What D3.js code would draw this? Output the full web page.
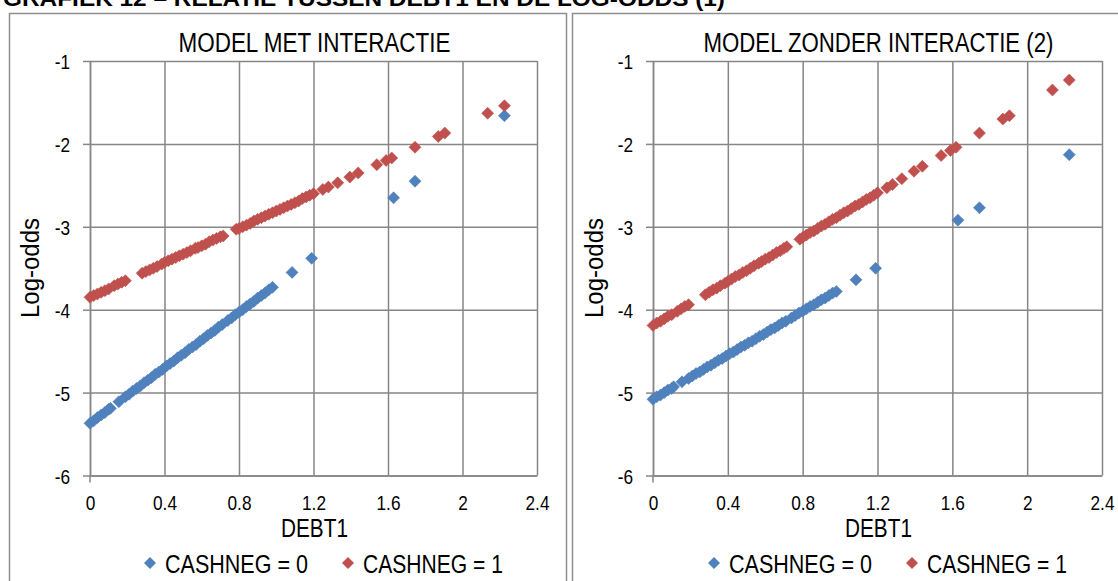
<!DOCTYPE html>
<html>
<head>
<meta charset="utf-8">
<script src="https://cdn.jsdelivr.net/npm/d3@7"></script>
<style>
  body { margin: 0; background: #fff; }
  svg { display: block; }
  text { font-family: 'Liberation Sans', Arial, sans-serif; fill: #000; }
</style>
</head>
<body>
<svg id="chart" width="1118" height="581"></svg>
<script>
// DEBT1 values of the observations, per CASHNEG group
const debtCash0 = [0,0.02,0.04,0.06,0.08,0.10,0.11,0.155,
  0.19,0.21,0.23,0.25,0.27,0.29,0.31,0.33,0.35,0.37,0.39,0.41,0.43,0.45,0.47,0.49,0.51,0.53,0.55,0.57,0.59,0.61,0.63,0.65,0.67,0.69,0.71,
  0.74,0.76,0.78,0.80,0.82,0.84,0.86,0.88,0.90,0.92,0.94,0.96,0.98,
  1.085,1.19,1.63,1.745,2.225];
const debtCash1 = [0,0.02,0.04,0.06,0.08,0.10,0.13,0.15,0.17,0.19,
  0.28,0.30,0.32,0.34,0.36,
  0.385,0.40,0.42,0.44,0.46,0.48,0.50,0.52,0.54,
  0.565,0.58,0.60,0.62,0.64,0.66,0.68,0.70,0.715,
  0.785,0.80,0.82,0.84,0.86,0.88,0.90,0.92,0.94,0.96,0.98,1.00,1.02,1.04,1.06,1.08,1.10,1.12,1.14,1.16,1.18,1.20,
  1.25,1.28,1.33,1.395,1.44,1.54,1.59,1.62,1.745,1.87,1.905,2.135,2.225];

// Predicted log-odds, model with interaction
const logOddsInteraction0 = [-5.37,-5.34,-5.30,-5.27,-5.24,-5.20,-5.19,-5.11,
  -5.05,-5.02,-4.98,-4.95,-4.92,-4.88,-4.85,-4.82,-4.78,-4.75,-4.72,-4.68,-4.65,-4.62,-4.58,-4.55,-4.52,-4.48,-4.45,-4.42,-4.38,-4.35,-4.31,-4.28,-4.25,-4.21,-4.18,
  -4.13,-4.10,-4.06,-4.03,-4.00,-3.96,-3.93,-3.90,-3.86,-3.83,-3.80,-3.76,-3.73,
  -3.55,-3.38,-2.65,-2.45,-1.66];
const logOddsInteraction1 = [-3.85,-3.83,-3.81,-3.79,-3.77,-3.75,-3.71,-3.69,-3.67,-3.65,
  -3.56,-3.54,-3.52,-3.50,-3.48,
  -3.45,-3.43,-3.41,-3.39,-3.37,-3.35,-3.33,-3.31,-3.29,
  -3.26,-3.25,-3.23,-3.21,-3.18,-3.16,-3.14,-3.12,-3.11,
  -3.03,-3.02,-3.00,-2.98,-2.96,-2.93,-2.91,-2.89,-2.87,-2.85,-2.83,-2.81,-2.79,-2.77,-2.75,-2.73,-2.71,-2.69,-2.66,-2.64,-2.62,-2.60,
  -2.55,-2.52,-2.47,-2.40,-2.35,-2.25,-2.20,-2.17,-2.04,-1.91,-1.87,-1.63,-1.54];

// Predicted log-odds, model without interaction
const logOddsNoInteraction0 = [-5.08,-5.05,-5.03,-5.00,-4.97,-4.95,-4.93,-4.87,
  -4.83,-4.80,-4.77,-4.75,-4.72,-4.69,-4.67,-4.64,-4.61,-4.59,-4.56,-4.53,-4.51,-4.48,-4.45,-4.43,-4.40,-4.38,-4.35,-4.32,-4.30,-4.27,-4.24,-4.22,-4.19,-4.16,-4.14,
  -4.10,-4.07,-4.04,-4.02,-3.99,-3.96,-3.94,-3.91,-3.88,-3.86,-3.83,-3.80,-3.78,
  -3.64,-3.50,-2.92,-2.77,-2.13];
const logOddsNoInteraction1 = [-4.19,-4.16,-4.14,-4.11,-4.08,-4.06,-4.02,-3.99,-3.96,-3.94,
  -3.82,-3.79,-3.76,-3.74,-3.71,
  -3.68,-3.66,-3.63,-3.60,-3.58,-3.55,-3.53,-3.50,-3.47,
  -3.44,-3.42,-3.39,-3.37,-3.34,-3.31,-3.29,-3.26,-3.24,
  -3.15,-3.13,-3.10,-3.07,-3.05,-3.02,-2.99,-2.97,-2.94,-2.91,-2.89,-2.86,-2.83,-2.81,-2.78,-2.75,-2.73,-2.70,-2.67,-2.65,-2.62,-2.59,
  -2.53,-2.49,-2.42,-2.33,-2.27,-2.14,-2.08,-2.04,-1.87,-1.70,-1.66,-1.35,-1.23];

const xTicks = [0, 0.4, 0.8, 1.2, 1.6, 2, 2.4];
const yTicks = [-1, -2, -3, -4, -5, -6];
const panelTitles = ["MODEL MET INTERACTIE", "MODEL ZONDER INTERACTIE (2)"];
const seriesNames = ["CASHNEG = 0", "CASHNEG = 1"];
const xTitle = "DEBT1";
const yTitle = "Log-odds";
const chartTitle = "GRAFIEK 12 \u2013 RELATIE TUSSEN DEBT1 EN DE LOG-ODDS (1)";

const svg = d3.select("#chart");
const gridColor = "#868686";
const frameColor = "#8f8f8f";
const colors = ["#4F81BD", "#C0504D"];
const diamond = "M0,-6L6,0L0,6L-6,0Z";
const narrow = 0.82;   // condensed look for the axis numbers

// document heading, running off the top edge
svg.append("text")
  .attr("x", 3).attr("y", 6)
  .attr("font-size", 22).attr("font-weight", "bold")
  .attr("textLength", 722).attr("lengthAdjust", "spacingAndGlyphs")
  .text(chartTitle);

const panels = [
  { title: panelTitles[0], titleW: 272, left: 9.5, right: 566.5, dx: 0, xr: [90, 537],
    series: [[debtCash0, logOddsInteraction0], [debtCash1, logOddsInteraction1]] },
  { title: panelTitles[1], titleW: 350, left: 572.5, right: 1140, dx: 564, xr: [653, 1102],
    series: [[debtCash0, logOddsNoInteraction0], [debtCash1, logOddsNoInteraction1]] }
];

function fitText(sel, w) {
  return sel.attr("textLength", w).attr("lengthAdjust", "spacingAndGlyphs");
}
function squeeze(sel) {
  sel.each(function () {
    const w = this.getComputedTextLength();
    d3.select(this).attr("textLength", w * narrow).attr("lengthAdjust", "spacingAndGlyphs");
  });
}

panels.forEach(p => {
  const g = svg.append("g");

  // chart frame
  g.append("rect")
    .attr("x", p.left).attr("y", 13.5)
    .attr("width", p.right - p.left).attr("height", 620)
    .attr("fill", "#fff").attr("stroke", frameColor).attr("stroke-width", 1.5);

  const x = d3.scaleLinear().domain([0, 2.4]).range(p.xr);
  const y = d3.scaleLinear().domain([-6, -1]).range([475.5, 61]);
  const plotH = y(-6) - y(-1);
  const plotW = x(2.4) - x(0);

  // vertical gridlines
  const gx = g.append("g")
    .attr("transform", `translate(0,${y(-6)})`)
    .call(d3.axisBottom(x).tickValues(xTicks).tickSize(-plotH).tickFormat(""));
  gx.select(".domain").remove();
  gx.selectAll("line").attr("stroke", gridColor).attr("stroke-width", 1.5);

  // horizontal gridlines
  const gy = g.append("g")
    .attr("transform", `translate(${x(0)},0)`)
    .call(d3.axisRight(y).tickValues(yTicks).tickSize(plotW).tickFormat(""));
  gy.select(".domain").remove();
  gy.selectAll("line").attr("stroke", gridColor).attr("stroke-width", 1.5);

  // value axis with outside ticks
  const ay = g.append("g")
    .attr("transform", `translate(${x(0)},0)`)
    .call(d3.axisLeft(y).tickValues(yTicks).tickSize(7).tickSizeOuter(0).tickPadding(13).tickFormat(d => String(d)));
  ay.attr("font-family", null);
  ay.select(".domain").attr("stroke", gridColor).attr("stroke-width", 1.5);
  ay.selectAll("line").attr("stroke", gridColor).attr("stroke-width", 1.5);
  ay.selectAll("text").attr("font-size", 21).attr("dy", "0.36em").call(squeeze);

  // category axis labels
  const ax = g.append("g")
    .attr("transform", `translate(0,${y(-6)})`)
    .call(d3.axisBottom(x).tickValues(xTicks).tickSize(0).tickSizeOuter(0).tickPadding(20).tickFormat(d => String(d)));
  ax.attr("font-family", null);
  ax.select(".domain").attr("stroke", gridColor).attr("stroke-width", 1.5);
  ax.selectAll("text").attr("font-size", 21).call(squeeze);
  g.append("line")
    .attr("x1", x(0)).attr("x2", x(0))
    .attr("y1", y(-6)).attr("y2", y(-6) + 7)
    .attr("stroke", gridColor).attr("stroke-width", 1.5);

  // markers
  p.series.forEach((s, i) => {
    const pts = s[0].map((d, k) => [d, s[1][k]]);
    g.append("g").selectAll("path").data(pts).join("path")
      .attr("d", diamond)
      .attr("transform", d => `translate(${x(d[0])},${y(d[1])})`)
      .attr("fill", colors[i])
      .attr("stroke", colors[i]).attr("stroke-width", 0.6);
  });

  // titles
  const cx = (p.xr[0] + p.xr[1]) / 2 + 1;
  fitText(g.append("text")
    .attr("x", cx).attr("y", 52)
    .attr("text-anchor", "middle").attr("font-size", 27)
    .text(p.title), p.titleW);

  fitText(g.append("text")
    .attr("x", cx).attr("y", 537)
    .attr("text-anchor", "middle").attr("font-size", 25)
    .text(xTitle), 67);

  fitText(g.append("text")
    .attr("transform", `translate(${39 + p.dx},268) rotate(-90)`)
    .attr("text-anchor", "middle").attr("font-size", 25)
    .text(yTitle), 100);

  // legend
  const legendX = [150, 348];
  seriesNames.forEach((name, i) => {
    g.append("path")
      .attr("d", diamond)
      .attr("transform", `translate(${legendX[i] + p.dx},563)`)
      .attr("fill", colors[i]);
    fitText(g.append("text")
      .attr("x", legendX[i] + 15 + p.dx).attr("y", 573)
      .attr("font-size", 25)
      .text(name), i === 0 ? 143 : 140);
  });
});
</script>
</body>
</html>
